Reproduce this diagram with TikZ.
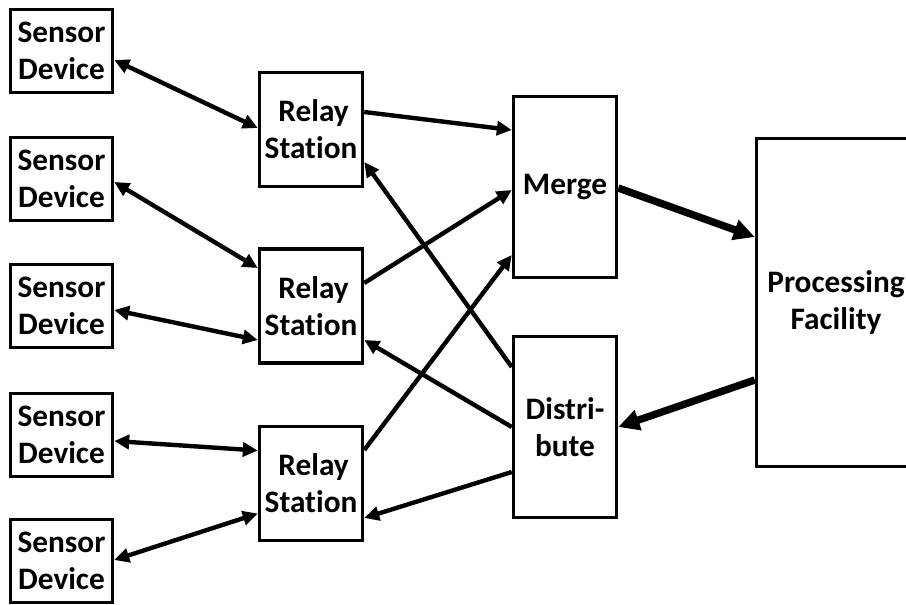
\documentclass[tikz,border=0pt]{standalone}
\usepackage{fontspec}
\setmainfont[Ligatures=NoCommon]{Carlito}
\usetikzlibrary{arrows.meta, calc}

\begin{document}
\begin{tikzpicture} [x = 0.02cm, y = -0.02cm, >={Triangle[length=8.5pt, width=8pt]},
  unit/.style = {draw = black, line width = 2pt, align = center, inner sep = 0pt,
    font = \fontsize{17.8}{21}\selectfont\bfseries},
  sensorbox/.style = {unit, minimum width = 2.04cm, minimum height = 1.66cm},
  relaybox/.style = {unit, minimum width = 2.06cm, minimum height = 2.28cm},
  hubbox/.style = {unit, minimum width = 2.06cm, minimum height = 3.62cm},
  link/.style = {black, line width = 2.5pt, <->},
  feed/.style = {black, line width = 2.5pt, ->},
  trunk/.style = {black, line width = 4.2pt, ->, >={Triangle[length=12pt, width=11.5pt]}}]
\clip (0, 0) rectangle (906, 605);
\node[sensorbox] (s1) at (61.5, 51) {Sensor\\Device};
\node[sensorbox] (s2) at (61.5, 179) {Sensor\\Device};
\node[sensorbox] (s3) at (61.5, 306) {Sensor\\Device};
\node[sensorbox] (s4) at (61.5, 435) {Sensor\\Device};
\node[sensorbox] (s5) at (61.5, 561) {Sensor\\Device};
\node[relaybox] (r1) at (311, 129.5) {\,Relay\\Station};
\node[relaybox] (r2) at (311, 306) {\,Relay\\Station};
\node[relaybox] (r3) at (311, 483.5) {\,Relay\\Station};
\node[hubbox] (merge) at (565, 187) {Merge};
\node[hubbox] (dist) at (565, 427) {Distri-\\bute};
\node[unit, minimum width = 3.7cm, minimum height = 6.56cm] (proc) at (849, 302.5) {};
\node[unit, draw = none] (proclabel) at (836, 302.5) {Processing\\Facility};
\draw[link] ($(s1.east)+(0, 9)$) -- ($(r1.west)+(0, -1.5)$);
\draw[link] ($(s2.east)+(0, 3)$) -- ($(r2.west)+(0, -38)$);
\draw[link] ($(s3.east)+(0, 4)$) -- ($(r2.west)+(0, 34)$);
\draw[link] ($(s4.east)+(0, 6)$) -- ($(r3.west)+(0, -33)$);
\draw[link] ($(s5.east)+(0, -1)$) -- ($(r3.west)+(0, 30)$);
\draw[feed] ($(r1.east)+(0, -17.5)$) -- ($(merge.west)+(0, -57)$);
\draw[feed] ($(r2.east)+(0, -23)$) -- ($(merge.west)+(0, 3)$);
\draw[feed] ($(r3.east)+(0, -33.5)$) -- ($(merge.west)+(0, 68)$);
\draw[feed] ($(dist.west)+(0, -60)$) -- ($(r1.east)+(0, 32.5)$);
\draw[feed] (dist.west) -- ($(r2.east)+(0, 34)$);
\draw[feed] ($(dist.west)+(0, 45)$) -- ($(r3.east)+(0, 34.5)$);
\draw[trunk] ($(merge.east)+(0, 1)$) -- ($(proc.west)+(0, -65.5)$);
\draw[trunk] ($(proc.west)+(0, 77.5)$) -- (dist.east);
\end{tikzpicture}
\end{document}
